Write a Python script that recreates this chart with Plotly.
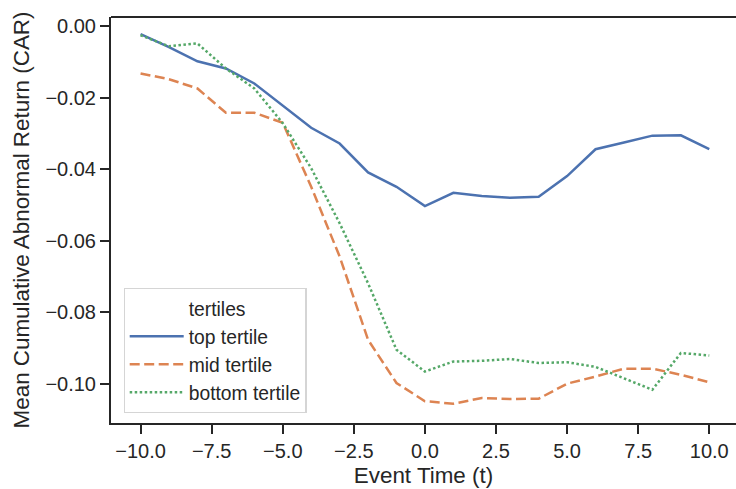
import plotly.graph_objects as go

event_time = list(range(-10, 11))
top_tertile = [-0.0022, -0.0058, -0.0098, -0.0118, -0.0160, -0.0221, -0.0284, -0.0328, -0.0409, -0.0449,
               -0.0503, -0.0466, -0.0475, -0.0480, -0.0477, -0.0419, -0.0344, -0.0325, -0.0306, -0.0305, -0.0344]
mid_tertile = [-0.0132, -0.0148, -0.0174, -0.0242, -0.0242, -0.0270, -0.0449, -0.0644, -0.0877, -0.0998,
               -0.1049, -0.1056, -0.1040, -0.1043, -0.1042, -0.1000, -0.0980, -0.0958, -0.0958, -0.0975, -0.0996]
bottom_tertile = [-0.0025, -0.0056, -0.0048, -0.0118, -0.0174, -0.0271, -0.0397, -0.0551, -0.0719, -0.0905,
                  -0.0966, -0.0938, -0.0936, -0.0931, -0.0942, -0.0940, -0.0953, -0.0984, -0.1017, -0.0914, -0.0921]
x_ticks = [-10, -7.5, -5, -2.5, 0, 2.5, 5, 7.5, 10]
y_ticks = [0.0, -0.02, -0.04, -0.06, -0.08, -0.10]

FONT = "Liberation Sans, Arial, sans-serif"
INK = "#262626"

fig = go.Figure()
fig.add_trace(go.Scatter(x=[None], y=[None], mode="lines", name="tertiles",
                         line=dict(color="rgba(0,0,0,0)", width=0)))
fig.add_trace(go.Scatter(x=event_time, y=top_tertile, mode="lines", name="top tertile",
                         line=dict(color="#4C72B0", width=2.5)))
fig.add_trace(go.Scatter(x=event_time, y=mid_tertile, mode="lines", name="mid tertile",
                         line=dict(color="#DD8452", width=2.5, dash="10px,4.5px")))
fig.add_trace(go.Scatter(x=event_time, y=bottom_tertile, mode="lines", name="bottom tertile",
                         line=dict(color="#55A868", width=2.5, dash="2.5px,2.5px")))

fig.update_layout(
    width=736, height=489,
    margin=dict(l=111, r=0, t=17, b=66),
    paper_bgcolor="white", plot_bgcolor="white",
    font=dict(family=FONT, size=20, color=INK),
    showlegend=True,
    legend=dict(x=0.02, y=0.025, xanchor="left", yanchor="bottom",
                bgcolor="rgba(255,255,255,0.8)", bordercolor="#d5d5d5", borderwidth=1.2,
                font=dict(family=FONT, size=19.3, color=INK),
                itemwidth=54, traceorder="normal"),
    shapes=[dict(type="line", xref="paper", yref="paper", x0=0, x1=1, y0=1, y1=1,
                 line=dict(color=INK, width=2))],
)
fig.update_xaxes(range=[-11.04, 10.94], tickvals=x_ticks, tickformat=".1f",
                 showgrid=False, zeroline=False, showline=True, linecolor=INK, linewidth=2,
                 ticks="outside", ticklen=9, tickwidth=2, tickcolor=INK,
                 tickfont=dict(family=FONT, size=20, color=INK),
                 title=dict(text="Event Time (t)", font=dict(family=FONT, size=22.4, color=INK), standoff=6))
fig.update_yaxes(range=[-0.111, 0.0026], tickvals=y_ticks, tickformat=".2f",
                 showgrid=False, zeroline=False, showline=True, linecolor=INK, linewidth=2,
                 ticks="outside", ticklen=9, tickwidth=2, tickcolor=INK,
                 tickfont=dict(family=FONT, size=20, color=INK),
                 title=dict(text="Mean Cumulative Abnormal Return (CAR)", font=dict(family=FONT, size=22.4, color=INK), standoff=10))

fig.write_html("out.html")
